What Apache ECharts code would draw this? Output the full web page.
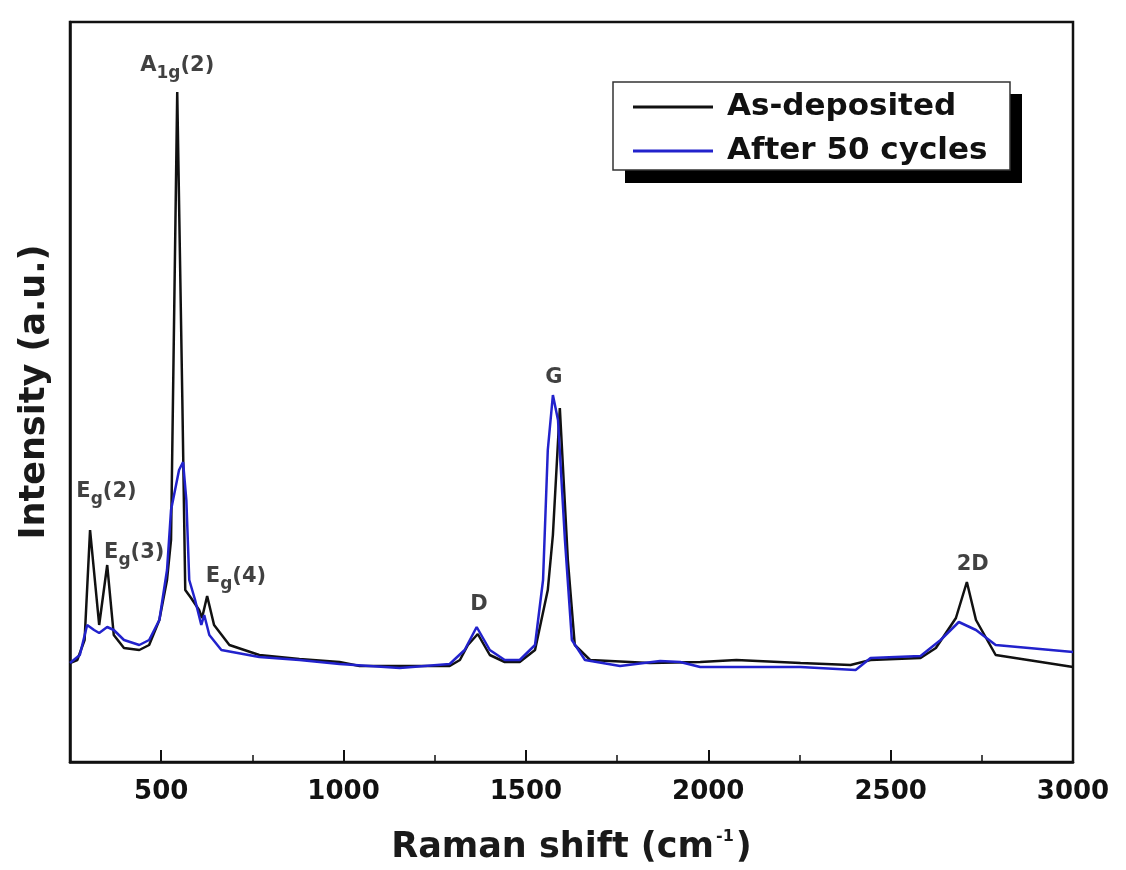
<!DOCTYPE html>
<html>
<head>
<meta charset="utf-8">
<script src="https://cdn.jsdelivr.net/npm/echarts@6/dist/echarts.min.js"></script>
<style>html,body{margin:0;padding:0;background:#fff}#c{width:1126px;height:870px}</style>
</head>
<body>
<div id="c"></div>
<script>
// Raman shift (cm^-1) and intensity (a.u.)
const asDepX = [250,270,290,305,330,352,370,398,440,467,495,516,527,544,558,566,582,604,612,626,645,687,769,879,989,1044,1150,1291,1319,1341,1368,1401,1442,1483,1525,1560,1574,1593,1615,1634,1676,1840,1978,2077,2253,2390,2445,2582,2624,2679,2709,2734,2788,2912,3000];
const asDepY = [99,102,122,232,137,197,127,114,112,117,142,182,222,670,362,172,164,152,144,166,137,117,107,103,100,96,96,96,102,117,128,107,100,100,112,172,227,354,202,117,102,99,100,102,99,97,102,104,114,144,180,142,107,100,95];
const cycX = [250,277,297,316,330,352,370,398,440,467,495,516,527,538,549,560,569,577,593,610,618,632,665,769,879,989,1154,1291,1332,1365,1401,1442,1483,1525,1547,1560,1574,1588,1607,1626,1662,1758,1868,1923,1978,2253,2404,2445,2582,2637,2687,2734,2788,3000];
const cycY = [99,107,137,132,129,135,132,122,117,122,142,192,252,272,292,300,262,182,162,137,147,127,112,105,102,98,94,98,112,135,112,102,102,117,182,312,367,342,222,122,102,96,101,100,95,95,92,104,106,122,140,132,117,110];
const seriesNames = ['As-deposited','After 50 cycles'];
const annoX = [544,350,426,705,1371,1577,2725];
const annoY = [696,270,209,185,157,384,197];
const annoText = ['{b|A}{s|1g}{b|(2)}','{b|E}{s|g}{b|(2)}','{b|E}{s|g}{b|(3)}','{b|E}{s|g}{b|(4)}','{b|D}','{b|G}','{b|2D}'];
const xTicks = [500,1000,1500,2000,2500,3000];

const zip = (xs, ys) => xs.map((x, i) => [x, ys[i]]);
const font = 'DejaVu Sans';
const chart = echarts.init(document.getElementById('c'), null, {renderer: 'canvas'});
chart.setOption({
  animation: false,
  backgroundColor: '#fff',
  grid: {left: 70, right: 53, top: 22, bottom: 108, show: true, borderColor: '#111', borderWidth: 2.5,
         backgroundColor: 'transparent', containLabel: false, outerBoundsMode: 'none'},
  graphic: [
    {type: 'rect', z: 10, shape: {x: 625, y: 94, width: 397, height: 89}, style: {fill: '#000'}},
    {type: 'rect', z: 11, shape: {x: 613, y: 82, width: 397, height: 88}, style: {fill: '#fff', stroke: '#333', lineWidth: 1.5}}
  ],
  legend: {
    data: seriesNames,
    orient: 'vertical',
    left: 633, top: 89,
    z: 20,
    padding: 0,
    itemGap: 8,
    itemWidth: 80, itemHeight: 3,
    icon: 'rect',
    textStyle: {fontFamily: font, fontWeight: 'bold', fontSize: 31, color: '#111', lineHeight: 36, padding: [0, 0, 0, 9]}
  },
  xAxis: {
    type: 'value', min: 250, max: 3000,
    axisLine: {show: true, lineStyle: {color: '#111', width: 2.5}},
    axisTick: {show: true, inside: true, length: 12, lineStyle: {color: '#111', width: 2}, customValues: xTicks},
    minorTick: {show: true, splitNumber: 2, length: 7, lineStyle: {color: '#111', width: 1.5}},
    axisLabel: {fontFamily: font, fontWeight: 'bold', fontSize: 26, color: '#111', margin: 17, customValues: xTicks,
      formatter: v => String(v)},
    splitLine: {show: false},
    name: '{t|Raman shift (cm}{sup|-1}{t|)}',
    nameLocation: 'middle', nameGap: 67,
    nameTextStyle: {rich: {
      t: {fontFamily: font, fontWeight: 'bold', fontSize: 35, color: '#1a1a1a'},
      sup: {fontFamily: font, fontWeight: 'bold', fontSize: 16, color: '#1a1a1a', padding: [0, 2, 22, 2]}
    }}
  },
  yAxis: {
    type: 'value', min: 0, max: 740,
    axisLine: {show: true, lineStyle: {color: '#111', width: 2.5}},
    axisTick: {show: false}, axisLabel: {show: false}, splitLine: {show: false},
    name: 'Intensity (a.u.)', nameLocation: 'middle', nameGap: 18, nameRotate: 90,
    nameTextStyle: {fontFamily: font, fontWeight: 'bold', fontSize: 35, color: '#1a1a1a'}
  },
  series: [
    {name: seriesNames[0], type: 'line', data: zip(asDepX, asDepY), showSymbol: false, smooth: false,
     lineStyle: {color: '#111', width: 2.5}, itemStyle: {color: '#111'}, z: 3},
    {name: seriesNames[1], type: 'line', data: zip(cycX, cycY), showSymbol: false, smooth: false,
     lineStyle: {color: '#2222cc', width: 2.5}, itemStyle: {color: '#2222cc'}, z: 4},
    {name: 'labels', type: 'scatter', symbolSize: 0, silent: true, z: 5,
     data: annoX.map((x, i) => ({value: [x, annoY[i]], label: {formatter: annoText[i]}})),
     label: {show: true, position: 'inside', color: '#111',
       rich: {
         b: {fontFamily: font, fontWeight: 'bold', fontSize: 21, color: '#111'},
         s: {fontFamily: font, fontWeight: 'bold', fontSize: 17, color: '#111', padding: [16, 0, 0, 0]}
       }}
    }
  ]
});
</script>
</body>
</html>
